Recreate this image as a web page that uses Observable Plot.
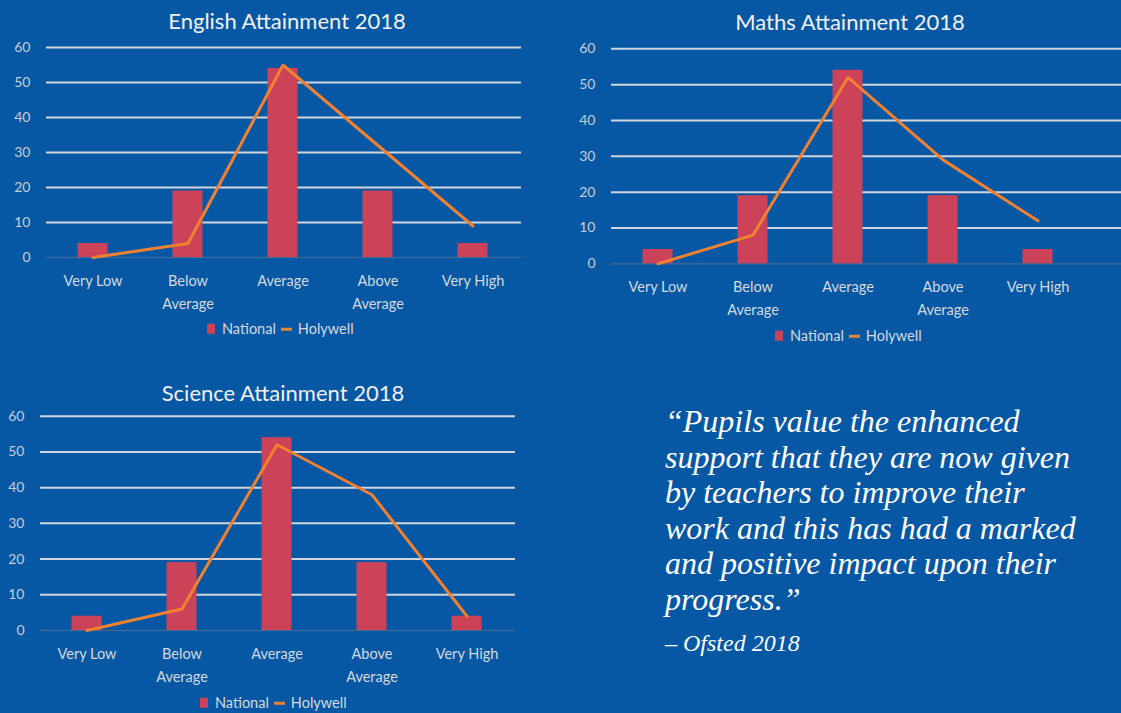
<!DOCTYPE html>
<html><head><meta charset="utf-8">
<script src="https://cdn.jsdelivr.net/npm/d3@7"></script>
<script src="https://cdn.jsdelivr.net/npm/@observablehq/plot@0.6"></script>
<style>
html,body{margin:0;padding:0;background:#0658a5;}
#root{position:relative;width:1121px;height:713px;background:#0658a5;overflow:hidden;font-family:Lato,"Open Sans",sans-serif;}
.chart{position:absolute;}
.title{position:absolute;color:#f0f0f0;font-size:22px;transform:translate(-50%,-50%);white-space:nowrap;line-height:1;}
.legend{position:absolute;display:flex;align-items:center;color:#d4d8de;font-size:14.5px;transform:translateY(-50%);white-space:nowrap;line-height:1;}
.legend .sq{width:8px;height:10px;background:#cc4259;margin-right:7px;}
.legend .ln{width:11px;height:3px;background:#ef8130;margin:0 6px 0 5px;}
.quote{position:absolute;left:665px;top:404px;color:#ffffff;font-family:"Liberation Serif",serif;font-style:italic;font-size:32px;line-height:35.5px;white-space:nowrap;}
.source{position:absolute;left:665px;top:630px;color:#ffffff;font-family:"Liberation Serif",serif;font-style:italic;font-size:24px;line-height:1.107;white-space:nowrap;}
</style></head>
<body><div id="root"></div>
<script>
const categories = ["Very Low", "Below Average", "Average", "Above Average", "Very High"];
const tickLabels = ["Very Low", "Below\nAverage", "Average", "Above\nAverage", "Very High"];
const yTicks = [0, 10, 20, 30, 40, 50, 60];
const seriesNames = ["National", "Holywell"];

const englishTitle = "English Attainment 2018";
const englishNational = [4, 19, 54, 19, 4];
const englishHolywell = [0, 4, 55, 32, 9];

const mathsTitle = "Maths Attainment 2018";
const mathsNational = [4, 19, 54, 19, 4];
const mathsHolywell = [0, 8, 52, 29, 12];

const scienceTitle = "Science Attainment 2018";
const scienceNational = [4, 19, 54, 19, 4];
const scienceHolywell = [0, 6, 52, 38, 4];

const quoteLines = [
  "\u201CPupils value the enhanced",
  "support that they are now given",
  "by teachers to improve their",
  "work and this has had a marked",
  "and positive impact upon their",
  "progress.\u201D"
];
const quoteSource = "\u2013 Ofsted 2018";

const root = document.getElementById("root");
const labelOf = new Map(categories.map((c, i) => [c, tickLabels[i]]));

function chart(cfg) {
  const data = categories.map((c, i) => ({category: c, national: cfg.national[i], holywell: cfg.holywell[i]}));
  const svg = Plot.plot({
    width: cfg.width, height: cfg.height,
    marginLeft: cfg.ml, marginRight: cfg.mr, marginTop: cfg.mt, marginBottom: cfg.mb,
    style: {background: "transparent", color: "#d4d8de", fontFamily: "Lato, sans-serif", fontSize: "14px", overflow: "visible"},
    x: {type: "band", domain: categories, range: cfg.xRange, padding: 0, label: null},
    y: {domain: [0, 60], label: null},
    marks: [
      Plot.ruleY(yTicks.filter(d => d > 0), {stroke: "#cfd5de", strokeWidth: 2}),
      Plot.ruleY([0], {stroke: "#4a6a90", strokeWidth: 1.2}),
      Plot.barY(data, {x: "category", y: "national", fill: "#cc4259", insetLeft: 32.5, insetRight: 32.5}),
      Plot.line(data, {x: "category", y: "holywell", stroke: "#ef8130", strokeWidth: 3}),
      Plot.axisY({ticks: yTicks, tickSize: 0, tickPadding: 16, fontSize: 14, fill: "#c8ced8", label: null}),
      Plot.axisX({tickSize: 0, tickPadding: 12, tickFormat: d => labelOf.get(d), lineHeight: 1.58, fontSize: 14.5, fill: "#d4d8de", label: null})
    ]
  });
  svg.classList.add("chart");
  svg.style.left = cfg.left + "px";
  svg.style.top = cfg.top + "px";
  root.appendChild(svg);

  const t = document.createElement("div");
  t.className = "title";
  t.textContent = cfg.title;
  t.style.left = cfg.titleX + "px";
  t.style.top = cfg.titleY + "px";
  root.appendChild(t);

  const lg = document.createElement("div");
  lg.className = "legend";
  lg.style.left = cfg.legendX + "px";
  lg.style.top = cfg.legendY + "px";
  lg.innerHTML = `<span class="sq"></span><span>${seriesNames[0]}</span><span class="ln"></span><span>${seriesNames[1]}</span>`;
  root.appendChild(lg);
}

chart({title: englishTitle, national: englishNational, holywell: englishHolywell,
  left: 0, top: 30, width: 560, height: 320, ml: 46, mr: 39, mt: 17, mb: 93, xRange: [44.5, 520.5],
  titleX: 287, titleY: 21, legendX: 207, legendY: 329});
chart({title: mathsTitle, national: mathsNational, holywell: mathsHolywell,
  left: 560, top: 30, width: 561, height: 320, ml: 51, mr: 0, mt: 18.3, mb: 86.7, xRange: [49.5, 525.5],
  titleX: 850, titleY: 22, legendX: 775, legendY: 336});
chart({title: scienceTitle, national: scienceNational, holywell: scienceHolywell,
  left: 0, top: 400, width: 560, height: 290, ml: 40, mr: 45, mt: 15.7, mb: 60, xRange: [38.5, 514.5],
  titleX: 283, titleY: 393, legendX: 200, legendY: 703});

const q = document.createElement("div");
q.className = "quote";
q.innerHTML = quoteLines.map(l => l.replace(/&/g, "&amp;")).join("<br>");
root.appendChild(q);
const s = document.createElement("div");
s.className = "source";
s.textContent = quoteSource;
root.appendChild(s);
</script>
</body></html>
